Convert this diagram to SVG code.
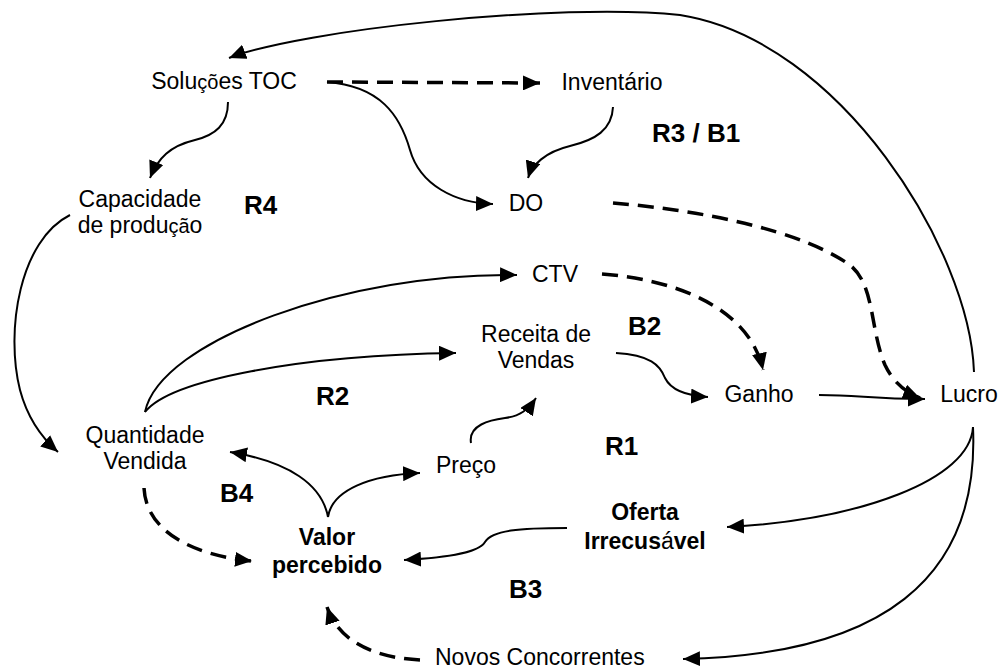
<svg xmlns="http://www.w3.org/2000/svg" width="1001" height="671" viewBox="0 0 1001 671">
  <style>
    .lbl { font-family: "Liberation Sans", Arial, sans-serif; font-size: 23px; fill: #000; }
    .bold { font-weight: bold; }
    .alt { font-size: 20px; font-weight: normal; }
    .loop { font-family: "Liberation Sans", Arial, sans-serif; font-size: 26px; font-weight: bold; fill: #000; }
    .mid { text-anchor: middle; }
    .link { fill: none; stroke: #000; stroke-width: 2; marker-end: url(#head); }
    .dash { fill: none; stroke: #000; stroke-width: 3.5; stroke-dasharray: 16 9; marker-end: url(#head); }
  </style>
  <defs>
    <marker id="head" markerUnits="userSpaceOnUse" markerWidth="18" markerHeight="15" refX="17" refY="7.5" orient="auto">
      <path d="M0,0 L17,7.5 L0,15 Z" fill="#000"/>
    </marker>
  </defs>
  <rect width="1001" height="671" fill="#fff"/>

  <!-- causal links -->
  <g id="connectors">
    <path class="link" d="M974,372 C970,250 840,40 680,15 C560,2 300,30 229,58"/>
    <path class="dash" d="M327,82 L540,83"/>
    <path class="link" d="M327,82 C380,86 400,115 410,150 C420,185 455,203 493,204"/>
    <path class="link" d="M228,102 C228,125 215,135 195,140 C170,146 158,158 150,178"/>
    <path class="link" d="M613,107 C612,130 595,140 570,146 C545,152 532,165 528,178"/>
    <path class="dash" d="M613,203 C700,210 800,230 850,265 C875,285 870,330 885,365 C893,382 905,392 920,398"/>
    <path class="dash" d="M602,274 C680,280 750,310 763,370"/>
    <path class="link" d="M70,215 C20,240 5,330 20,390 C28,420 42,438 58,452"/>
    <path class="link" d="M145,412 C160,340 350,272 517,275"/>
    <path class="link" d="M145,412 C170,380 300,355 456,353"/>
    <path class="link" d="M616,353 C650,355 660,365 665,378 C672,392 690,396 708,397"/>
    <path class="link" d="M819,395 C860,395 870,399 925,399"/>
    <path class="link" d="M471,443 C468,425 490,420 505,418 C520,416 528,410 536,398"/>
    <path class="link" d="M328,517 C322,485 290,462 230,452"/>
    <path class="link" d="M328,517 C332,490 370,475 420,473"/>
    <path class="dash" d="M144,488 C146,530 190,555 252,561"/>
    <path class="link" d="M567,528 C520,528 492,530 485,542 C478,554 440,558 404,560"/>
    <path class="link" d="M973,427 C970,480 860,520 727,527"/>
    <path class="link" d="M973,427 C980,580 880,655 683,659"/>
    <path class="dash" d="M420,660 C380,658 340,645 327,607"/>
  </g>

  <!-- variables -->
  <g id="solucoes-toc"><text class="lbl mid" x="224" y="89">Solu<tspan class="alt">çõ</tspan>es TOC</text></g>
  <g id="inventario"><text class="lbl mid" x="612" y="90">Inventário</text></g>
  <g id="do"><text class="lbl mid" x="526" y="211">DO</text></g>
  <g id="ctv"><text class="lbl mid" x="555" y="282">CTV</text></g>
  <g id="capacidade">
    <text class="lbl mid" x="140" y="207">Capacidade</text>
    <text class="lbl mid" x="140" y="233">de produ<tspan class="alt">çã</tspan>o</text>
  </g>
  <g id="quantidade">
    <text class="lbl mid" x="145" y="443">Quantidade</text>
    <text class="lbl mid" x="145" y="469">Vendida</text>
  </g>
  <g id="receita">
    <text class="lbl mid" x="536" y="342">Receita de</text>
    <text class="lbl mid" x="536" y="368">Vendas</text>
  </g>
  <g id="ganho"><text class="lbl mid" x="759" y="402">Ganho</text></g>
  <g id="lucro"><text class="lbl mid" x="969" y="402">Lucro</text></g>
  <g id="preco"><text class="lbl mid" x="466" y="473">Preço</text></g>
  <g id="valor">
    <text class="lbl bold mid" x="327" y="545">Valor</text>
    <text class="lbl bold mid" x="327" y="573">percebido</text>
  </g>
  <g id="oferta">
    <text class="lbl bold mid" x="645" y="520">Oferta</text>
    <text class="lbl bold mid" x="645" y="549">Irrecus<tspan font-weight="normal">á</tspan>vel</text>
  </g>
  <g id="novos"><text class="lbl" x="435" y="665">Novos Concorrentes</text></g>

  <!-- loop labels -->
  <g id="loops">
    <text class="loop" x="244" y="214">R4</text>
    <text class="loop" x="652" y="142">R3 / B1</text>
    <text class="loop" x="628" y="335">B2</text>
    <text class="loop" x="316" y="405">R2</text>
    <text class="loop" x="605" y="455">R1</text>
    <text class="loop" x="220" y="502">B4</text>
    <text class="loop" x="509" y="598">B3</text>
  </g>
</svg>
